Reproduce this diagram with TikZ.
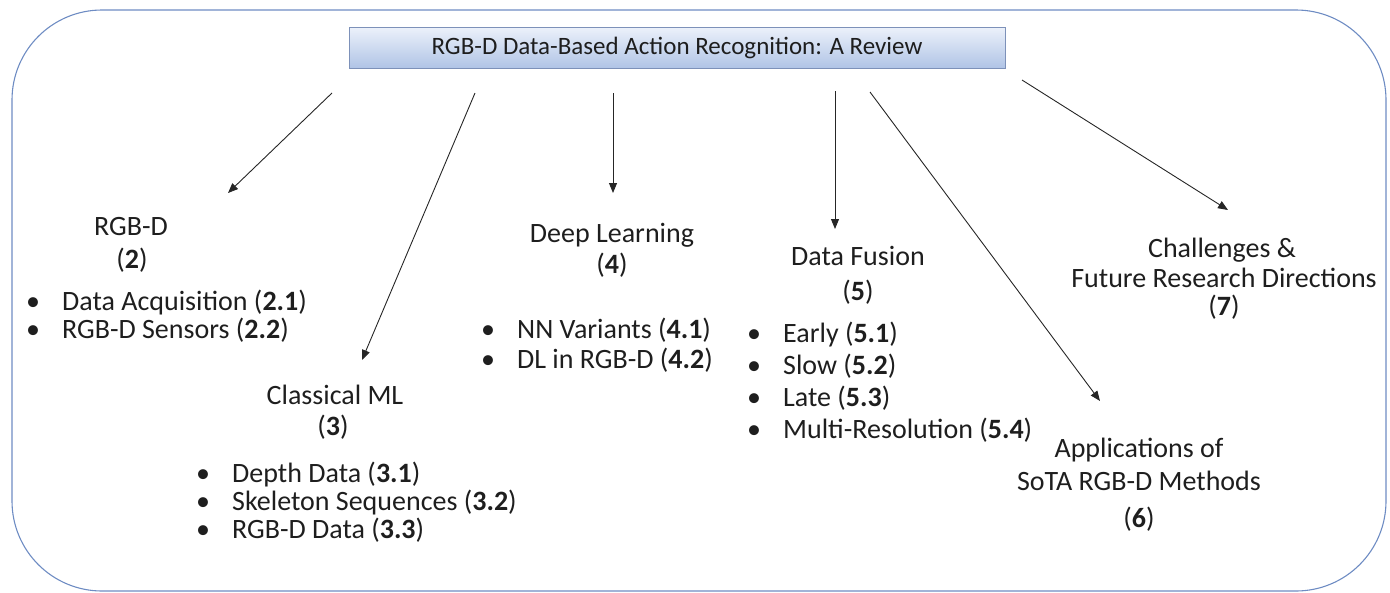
\documentclass[tikz,border=0pt]{standalone}
\usepackage{fontspec}
\setmainfont{Carlito}
\usetikzlibrary{arrows.meta}
\definecolor{framecol}{RGB}{110,140,195}
\definecolor{boxtop}{RGB}{236,241,250}
\definecolor{boxbot}{RGB}{176,196,230}
\definecolor{boxline}{RGB}{125,145,185}
\definecolor{txt}{RGB}{30,30,30}
\tikzset{
  frame/.style={draw=framecol, line width=1.1pt},
  titlebox/.style={draw=boxline, line width=0.9pt, top color=boxtop, bottom color=boxbot,
    minimum width=656pt, minimum height=41pt, inner sep=0pt, text=txt,
    font=\fontsize{25}{30}\selectfont},
  lbl/.style={inner sep=0pt, text=txt, font=\fontsize{28}{30}\selectfont},
  head/.style={lbl, anchor=base},
  item/.style={lbl, anchor=base west},
  conn/.style={draw=black!85, line width=0.9pt, -{Triangle[length=10pt,width=8pt]}}
}
\newcommand{\bul}{\makebox[36pt][l]{\textbullet}}
\begin{document}
\begin{tikzpicture}[x=1pt,y=-1pt]
\useasboundingbox (0,0) rectangle (1390,592);
\draw[frame, rounded corners=90pt] (12,10) rectangle (1386,591);
\node[titlebox] (title) at (677,47.5) {RGB-D Data-Based Action Recognition: A Review};

% section 2
\node[head] (h2a) at (131,235) {RGB-D};
\node[head] (h2b) at (132,268) {(\textbf{2})};
\node[item] (i21) at (26,310) {\bul Data Acquisition (\textbf{2.1})};
\node[item] (i22) at (26,338) {\bul RGB-D Sensors (\textbf{2.2})};

% section 3
\node[head] (h3a) at (335,404) {Classical ML};
\node[head] (h3b) at (333,435) {(\textbf{3})};
\node[item] (i31) at (196,482) {\bul Depth Data (\textbf{3.1})};
\node[item] (i32) at (196,510) {\bul Skeleton Sequences (\textbf{3.2})};
\node[item] (i33) at (196,538) {\bul RGB-D Data (\textbf{3.3})};

% section 4
\node[head] (h4a) at (612,242) {Deep Learning};
\node[head] (h4b) at (612,273) {(\textbf{4})};
\node[item] (i41) at (481,338) {\bul NN Variants (\textbf{4.1})};
\node[item] (i42) at (481,368) {\bul DL in RGB-D (\textbf{4.2})};

% section 5
\node[head] (h5a) at (858,265) {Data Fusion};
\node[head] (h5b) at (858,300) {(\textbf{5})};
\node[item] (i51) at (747,342) {\bul Early (\textbf{5.1})};
\node[item] (i52) at (747,374) {\bul Slow (\textbf{5.2})};
\node[item] (i53) at (747,406) {\bul Late (\textbf{5.3})};
\node[item] (i54) at (747,438) {\bul Multi-Resolution (\textbf{5.4})};

% section 6
\node[head] (h6a) at (1139,457) {Applications of};
\node[head] (h6b) at (1139,490) {SoTA RGB-D Methods};
\node[head] (h6c) at (1139,527) {(\textbf{6})};

% section 7
\node[head] (h7a) at (1222,257) {Challenges \&};
\node[head] (h7b) at (1224,287) {Future Research Directions};
\node[head] (h7c) at (1224,315) {(\textbf{7})};

% connector ends
\coordinate (s2) at (332,93);   \coordinate (e2) at (228,193);
\coordinate (s3) at (475,93);   \coordinate (e3) at (362,360);
\coordinate (s4) at (613,93);   \coordinate (e4) at (613,193);
\coordinate (s5) at (835,91);   \coordinate (e5) at (835,229);
\coordinate (s6) at (870,92);   \coordinate (e6) at (1100,401);
\coordinate (s7) at (1022,80);  \coordinate (e7) at (1228,210);
\foreach \n in {2,...,7} \draw[conn] (s\n) -- (e\n);
\end{tikzpicture}
\end{document}
